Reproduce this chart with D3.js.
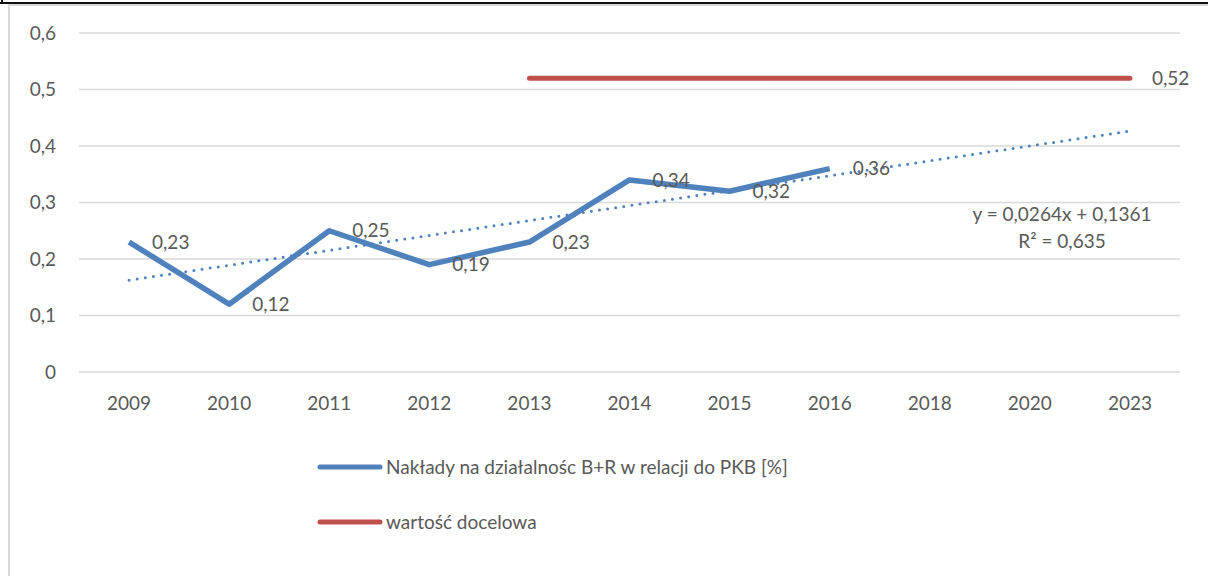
<!DOCTYPE html>
<html>
<head>
<meta charset="utf-8">
<script src="https://cdn.jsdelivr.net/npm/d3@7"></script>
<style>
  body { margin: 0; background: #fff; }
  text { font-family: Lato, "Open Sans", sans-serif; fill: #595959; }
</style>
</head>
<body>
<div id="chart"></div>
<script>
// chart data
const years = ["2009", "2010", "2011", "2012", "2013", "2014", "2015", "2016", "2018", "2020", "2023"];
const nakladyYears = ["2009", "2010", "2011", "2012", "2013", "2014", "2015", "2016"];
const naklady = [0.23, 0.12, 0.25, 0.19, 0.23, 0.34, 0.32, 0.36];
const targetYears = ["2013", "2023"];
const target = [0.52, 0.52];
const yTicks = [0, 0.1, 0.2, 0.3, 0.4, 0.5, 0.6];
const trendSlope = 0.0264;
const trendIntercept = 0.1361;
const trendR2 = 0.635;
const legendNames = ["Nakłady na działalnośc B+R w relacji do PKB [%]", "wartość docelowa"];

const svgWidth = 1208;
const svgHeight = 576;
const plot = { left: 79, right: 1180, top: 33, bottom: 372 };

const blue = "#4f81bd";
const red = "#c0504d";
const fmt = v => String(v).replace(".", ",");
const fmt3 = v => v.toFixed(3).replace(".", ",");
const fmt4 = v => v.toFixed(4).replace(".", ",");

const svg = d3.select("#chart")
    .append("svg")
    .attr("width", svgWidth)
    .attr("height", svgHeight);

// outer frame
svg.append("rect")
    .attr("x", 9).attr("y", 5)
    .attr("width", svgWidth).attr("height", svgHeight)
    .attr("fill", "none")
    .attr("stroke", "#d9d9d9")
    .attr("stroke-width", 2);
svg.append("line")
    .attr("x1", 0).attr("x2", svgWidth)
    .attr("y1", 3).attr("y2", 3)
    .attr("stroke", "#111").attr("stroke-width", 2);
svg.append("line")
    .attr("x1", 2).attr("x2", 2)
    .attr("y1", 0).attr("y2", 4)
    .attr("stroke", "#111").attr("stroke-width", 2);

const x = d3.scalePoint()
    .domain(years)
    .range([plot.left, plot.right])
    .padding(0.5);

const y = d3.scaleLinear()
    .domain([0, 0.6])
    .range([plot.bottom, plot.top]);

// gridlines
svg.append("g")
    .selectAll("line")
    .data(yTicks)
    .enter()
    .append("line")
    .attr("x1", plot.left).attr("x2", plot.right)
    .attr("y1", d => y(d)).attr("y2", d => y(d))
    .attr("stroke", "#d9d9d9")
    .attr("stroke-width", 1.5);

// y labels
svg.append("g")
    .selectAll("text")
    .data(yTicks)
    .enter()
    .append("text")
    .attr("x", 56)
    .attr("y", d => y(d))
    .attr("dy", "0.35em")
    .attr("text-anchor", "end")
    .attr("font-size", 19)
    .text(d => fmt(d));

// x labels
svg.append("g")
    .selectAll("text")
    .data(years)
    .enter()
    .append("text")
    .attr("x", d => x(d))
    .attr("y", 403)
    .attr("dy", "0.35em")
    .attr("text-anchor", "middle")
    .attr("font-size", 19)
    .text(d => d);

const line = d3.line()
    .x(d => x(d[0]))
    .y(d => y(d[1]));

// target line
svg.append("path")
    .datum(targetYears.map((yr, i) => [yr, target[i]]))
    .attr("d", line)
    .attr("fill", "none")
    .attr("stroke", red)
    .attr("stroke-width", 5)
    .attr("stroke-linecap", "round");

// trendline
const trendData = years.map((yr, i) => [yr, trendSlope * (i + 1) + trendIntercept]);
svg.append("path")
    .datum([trendData[0], trendData[trendData.length - 1]])
    .attr("d", line)
    .attr("fill", "none")
    .attr("stroke", blue)
    .attr("stroke-width", 3)
    .attr("stroke-linecap", "round")
    .attr("stroke-dasharray", "0 8.2");

// main series
svg.append("path")
    .datum(nakladyYears.map((yr, i) => [yr, naklady[i]]))
    .attr("d", line)
    .attr("fill", "none")
    .attr("stroke", blue)
    .attr("stroke-width", 5.5)
    .attr("stroke-linejoin", "round");

// data labels
svg.append("g")
    .selectAll("text")
    .data(nakladyYears.map((yr, i) => [yr, naklady[i]]))
    .enter()
    .append("text")
    .attr("x", d => x(d[0]) + 23)
    .attr("y", d => y(d[1]))
    .attr("dy", "0.35em")
    .attr("font-size", 19)
    .text(d => fmt(d[1]));

svg.append("text")
    .attr("x", x(targetYears[1]) + 22)
    .attr("y", y(target[1]))
    .attr("dy", "0.35em")
    .attr("font-size", 19)
    .text(fmt(target[1]));

// trend equation
const eq = svg.append("text")
    .attr("x", 1062)
    .attr("text-anchor", "middle")
    .attr("font-size", 19);
eq.append("tspan").attr("x", 1062).attr("y", 221)
    .text(`y = ${fmt4(trendSlope)}x + ${fmt4(trendIntercept)}`);
eq.append("tspan").attr("x", 1062).attr("y", 248)
    .text(`R² = ${fmt3(trendR2)}`);

// legend
const legend = svg.append("g")
    .selectAll("g")
    .data(legendNames)
    .enter()
    .append("g")
    .attr("transform", (d, i) => `translate(320, ${467 + i * 55})`);

legend.append("line")
    .attr("x1", 0).attr("x2", 60)
    .attr("stroke", (d, i) => i === 0 ? blue : red)
    .attr("stroke-width", 5)
    .attr("stroke-linecap", "round");

legend.append("text")
    .attr("x", 66)
    .attr("dy", "0.35em")
    .attr("font-size", 19)
    .text(d => d);
</script>
</body>
</html>
